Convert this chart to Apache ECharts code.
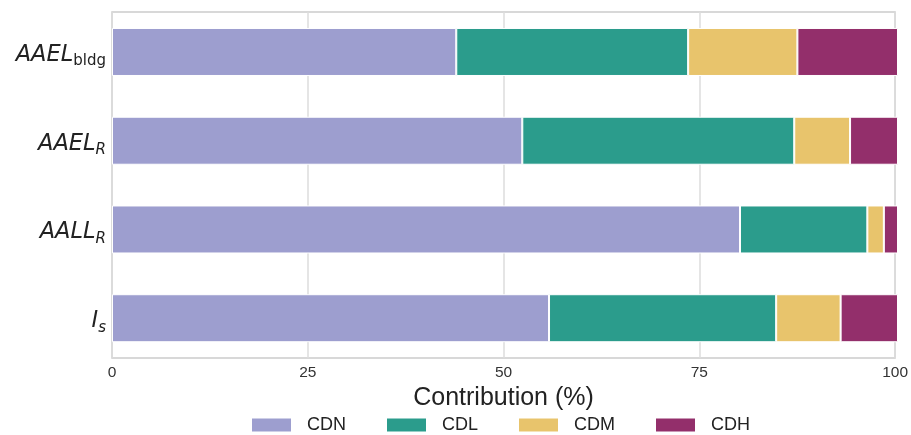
<!DOCTYPE html>
<html>
<head>
<meta charset="utf-8">
<script src="https://cdn.jsdelivr.net/npm/echarts@6/dist/echarts.min.js"></script>
<style>
  html, body { margin: 0; padding: 0; background: #ffffff; }
  #chart { width: 911px; height: 435px; }
</style>
</head>
<body>
<div id="chart"></div>
<script>
// Metric labels, top to bottom: main symbol + subscript
const labelMain = ['AAEL', 'AAEL', 'AALL', 'I'];
const labelSub = ['bldg', 'R', 'R', 's'];
const subItalic = [false, true, true, true];

// Damage-state contribution (%) for each metric
const seriesNames = ['CDN', 'CDL', 'CDM', 'CDH'];
const cdn = [43.8, 52.2, 79.9, 55.6];
const cdl = [29.5, 34.6, 16.2, 28.9];
const cdm = [13.9, 7.1, 2.1, 8.2];
const cdh = [12.8, 6.1, 1.8, 7.3];
const xTicks = [0, 25, 50, 75, 100];

const colors = ['#9d9ecf', '#2b9c8c', '#e8c46c', '#932f6b'];
const values = [cdn, cdl, cdm, cdh];
const categories = labelMain.map((m, i) => m + '_' + labelSub[i]);

const chart = echarts.init(document.getElementById('chart'), null, { renderer: 'canvas' });

const option = {
  backgroundColor: '#ffffff',
  animation: false,
  grid: [
    // bars
    { left: 112, right: 13, top: 7.6, height: 355, show: false },
    // frame, grid lines and tick labels
    { left: 112, right: 12, top: 12, height: 346, show: true, borderColor: '#cccccc', borderWidth: 1.5, z: 0 }
  ],
  xAxis: [
    { gridIndex: 0, type: 'value', min: 0, max: 100, show: false },
    {
      gridIndex: 1, type: 'value', min: 0, max: 100, interval: 25,
      axisLine: { show: false }, axisTick: { show: false },
      splitLine: { show: true, lineStyle: { color: '#dcdcdc', width: 1.5 } },
      axisLabel: {
        margin: 7, fontSize: 15.5, color: '#333333', fontFamily: 'Liberation Sans',
        formatter: v => (xTicks.indexOf(v) >= 0 ? String(v) : '')
      },
      name: 'Contribution (%)', nameLocation: 'middle', nameGap: 26,
      nameTextStyle: { fontSize: 25, color: '#222222', fontFamily: 'Liberation Sans' }
    }
  ],
  yAxis: [
    {
      gridIndex: 0, type: 'category', data: categories, inverse: true,
      axisLine: { show: false }, axisTick: { show: false }, splitLine: { show: false },
      axisLabel: {
        margin: 6,
        padding: [6, 0, 0, 0],
        formatter: (val, idx) => '{m|' + labelMain[idx] + '}' + (subItalic[idx] ? '{si|' : '{s|') + labelSub[idx] + '}',
        rich: {
          m: { fontFamily: 'DejaVu Sans', fontStyle: 'italic', fontSize: 22.5, color: '#222222', lineHeight: 28 },
          s: { fontFamily: 'DejaVu Sans', fontSize: 15, color: '#222222', lineHeight: 10, verticalAlign: 'bottom' },
          si: { fontFamily: 'DejaVu Sans', fontStyle: 'italic', fontSize: 15, color: '#222222', lineHeight: 10, verticalAlign: 'bottom' }
        }
      }
    },
    { gridIndex: 1, type: 'value', show: false, min: 0, max: 1, splitLine: { show: false } }
  ],
  legend: {
    left: 245, top: 411,
    itemWidth: 41, itemHeight: 15, itemGap: 39,
    icon: 'rect',
    textStyle: { fontSize: 18, color: '#222222', fontFamily: 'Liberation Sans', padding: [0, 0, 0, 10] },
    data: seriesNames
  },
  series: seriesNames.map((name, i) => ({
    name: name,
    type: 'bar',
    stack: 'total',
    xAxisIndex: 0, yAxisIndex: 0,
    barWidth: 48,
    data: values[i],
    itemStyle: { color: colors[i], borderColor: '#ffffff', borderWidth: 1 },
    z: 3
  }))
};

chart.setOption(option);
</script>
</body>
</html>
